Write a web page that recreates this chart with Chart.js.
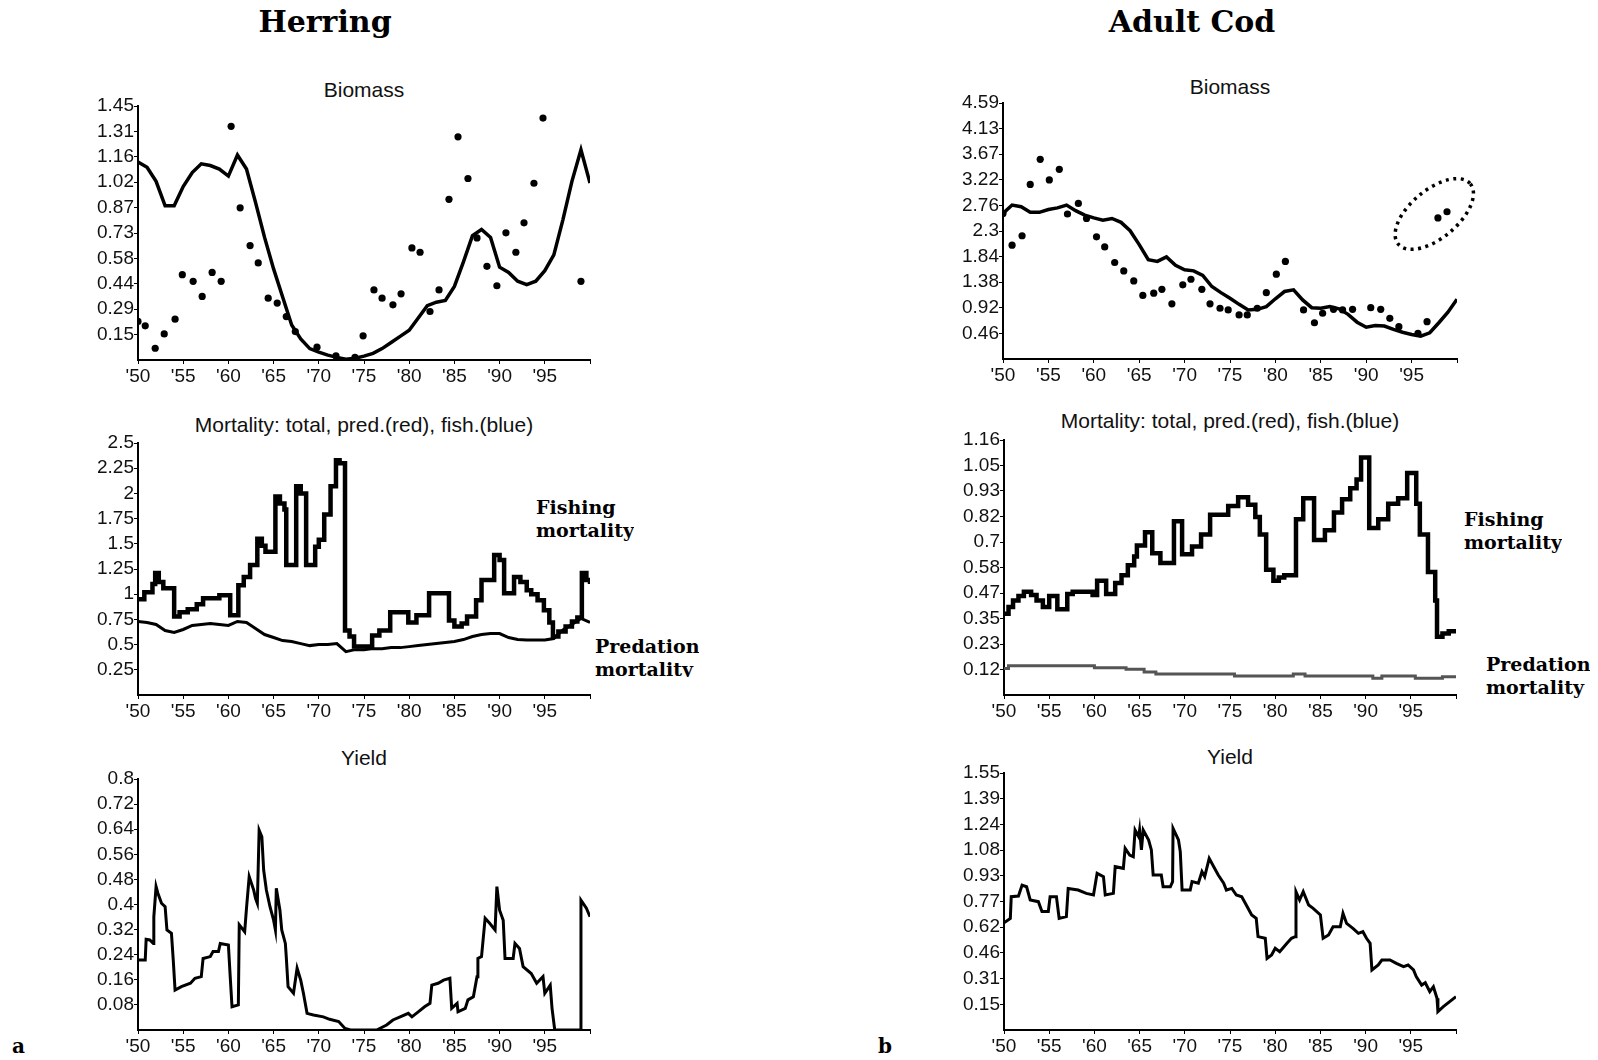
<!DOCTYPE html>
<html>
<head>
<meta charset="utf-8">
<script src="https://cdn.jsdelivr.net/npm/chart.js@4.4.1/dist/chart.umd.min.js"></script>
<style>
  body { margin: 0; background: #fff; width: 1598px; height: 1060px; position: relative; overflow: hidden;
         font-family: "Liberation Sans", Arial, sans-serif; color: #000; }
  canvas { position: absolute; }
  .head { position: absolute; font: bold 30px "DejaVu Serif", serif; transform: translate(-50%, -50%); white-space: nowrap; }
  .ptitle { position: absolute; font-size: 21px; transform: translate(-50%, -50%); white-space: nowrap; color: #111; }
  .note { position: absolute; font: bold 19px/23px "DejaVu Serif", serif; white-space: nowrap; overflow: hidden; }
  .tag { position: absolute; font: bold 20px "DejaVu Serif", serif; }
</style>
</head>
<body>

<div class="head" style="left:325px;top:21px">Herring</div>
<div class="head" style="left:1192px;top:21px">Adult Cod</div>

<div class="ptitle" style="left:364px;top:90px">Biomass</div>
<div class="ptitle" style="left:1230px;top:87px">Biomass</div>
<div class="ptitle" style="left:364px;top:425px">Mortality: total, pred.(red), fish.(blue)</div>
<div class="ptitle" style="left:1230px;top:421px">Mortality: total, pred.(red), fish.(blue)</div>
<div class="ptitle" style="left:364px;top:758px">Yield</div>
<div class="ptitle" style="left:1230px;top:757px">Yield</div>

<div class="note" style="left:536px;top:496px">Fishing<br>mortality</div>
<div class="note" style="left:595px;top:635px;height:42px">Predation<br>mortality</div>
<div class="note" style="left:1464px;top:508px">Fishing<br>mortality</div>
<div class="note" style="left:1486px;top:653px">Predation<br>mortality</div>

<div class="tag" style="left:12px;top:1034px">a</div>
<div class="tag" style="left:878px;top:1034px">b</div>

<script>
// x axis (years)
const yearTicks = [1950, 1955, 1960, 1965, 1970, 1975, 1980, 1985, 1990, 1995, 2000];
const yearTickLabels = ["'50", "'55", "'60", "'65", "'70", "'75", "'80", "'85", "'90", "'95", ""];

// ---- Herring ----
const hBioTicks = [0.145, 0.29, 0.435, 0.58, 0.725, 0.87, 1.015, 1.16, 1.305, 1.45];
const hBioTickLabels = ['0.15', '0.29', '0.44', '0.58', '0.73', '0.87', '1.02', '1.16', '1.31', '1.45'];
const hBioYears = [1950, 1951, 1952, 1953, 1954, 1955, 1956, 1957, 1958, 1959, 1960, 1961, 1962, 1963, 1964, 1965, 1966,
  1967, 1968, 1969, 1970, 1971, 1972, 1973, 1974, 1975, 1976, 1977, 1978, 1979, 1980, 1981, 1982, 1983, 1984, 1985,
  1986, 1987, 1988, 1989, 1990, 1991, 1992, 1993, 1994, 1995, 1996, 1997, 1998, 1999, 2000];
const hBioModel = [1.13, 1.10, 1.02, 0.88, 0.88, 0.99, 1.07, 1.12, 1.11, 1.09, 1.05, 1.17, 1.09, 0.90, 0.70, 0.52, 0.36,
  0.20, 0.12, 0.065, 0.045, 0.028, 0.015, 0.005, 0.01, 0.022, 0.038, 0.065, 0.10, 0.135, 0.17, 0.24, 0.31, 0.33, 0.34,
  0.42, 0.56, 0.71, 0.745, 0.70, 0.53, 0.50, 0.45, 0.43, 0.45, 0.51, 0.60, 0.80, 1.02, 1.20, 1.01];
const hSurveyYears = [1950.0, 1950.8, 1951.9, 1952.9, 1954.1, 1954.9, 1956.1, 1957.1, 1958.2, 1959.2, 1960.3, 1961.3,
  1962.4, 1963.3, 1964.4, 1965.4, 1966.4, 1967.4, 1969.8, 1971.9, 1974.0, 1974.9, 1976.1, 1977.0, 1978.2, 1979.1,
  1980.3, 1981.2, 1982.3, 1983.3, 1984.4, 1985.4, 1986.5, 1987.5, 1988.6, 1989.7, 1990.7, 1991.8, 1992.7, 1993.8,
  1994.8, 1999.0];
const hSurvey = [0.22, 0.195, 0.067, 0.149, 0.233, 0.487, 0.449, 0.363, 0.50, 0.449, 1.334, 0.869, 0.653, 0.554, 0.353,
  0.325, 0.248, 0.162, 0.073, 0.023, 0.015, 0.138, 0.40, 0.353, 0.315, 0.378, 0.64, 0.615, 0.277, 0.40, 0.917, 1.274,
  1.036, 0.697, 0.535, 0.424, 0.726, 0.615, 0.783, 1.009, 1.381, 0.449];

const hMortTicks = [0.25, 0.5, 0.75, 1, 1.25, 1.5, 1.75, 2, 2.25, 2.5];
const hMortTickLabels = ['0.25', '0.5', '0.75', '1', '1.25', '1.5', '1.75', '2', '2.25', '2.5'];
const hFishYears = [1950.0, 1950.7, 1951.6, 1951.9, 1952.3, 1952.8, 1954.0, 1954.6, 1955.5, 1956.5, 1957.2, 1959.0,
  1960.2, 1961.1, 1961.7, 1962.4, 1963.2, 1963.7, 1964.1, 1965.2, 1965.7, 1966.2, 1966.4, 1967.5, 1968.0, 1968.6,
  1969.6, 1970.0, 1970.6, 1971.3, 1971.9, 1972.3, 1972.9, 1973.4, 1973.9, 1975.9, 1976.7, 1977.9, 1979.9, 1980.8,
  1982.2, 1984.4, 1985.0, 1985.8, 1986.4, 1987.4, 1988.0, 1989.4, 1990.0, 1990.5, 1991.6, 1992.3, 1993.0, 1993.5,
  1994.2, 1994.9, 1995.5, 1995.9, 1996.5, 1997.3, 1998.0, 1998.6, 1999.1, 1999.6, 2000.0];
const hFish = [0.95, 1.02, 1.10, 1.21, 1.12, 1.06, 0.78, 0.82, 0.85, 0.90, 0.96, 0.99, 0.79, 1.09, 1.17, 1.29, 1.55,
  1.48, 1.42, 1.97, 1.90, 1.84, 1.29, 2.07, 2.00, 1.29, 1.47, 1.54, 1.79, 2.07, 2.33, 2.30, 0.64, 0.58, 0.48, 0.59,
  0.64, 0.82, 0.72, 0.79, 1.01, 0.74, 0.68, 0.71, 0.78, 0.94, 1.14, 1.39, 1.34, 1.01, 1.17, 1.12, 1.04, 1.00, 0.94,
  0.84, 0.72, 0.58, 0.63, 0.68, 0.73, 0.77, 1.21, 1.14, 1.10];
const hPred = [0.73, 0.72, 0.70, 0.64, 0.62, 0.65, 0.69, 0.70, 0.71, 0.70, 0.69, 0.73, 0.72, 0.66, 0.60, 0.57, 0.54,
  0.53, 0.51, 0.49, 0.50, 0.50, 0.51, 0.43, 0.45, 0.45, 0.46, 0.46, 0.47, 0.47, 0.48, 0.49, 0.50, 0.51, 0.52, 0.53,
  0.55, 0.58, 0.60, 0.61, 0.61, 0.57, 0.55, 0.545, 0.545, 0.545, 0.56, 0.645, 0.70, 0.76, 0.72];

const hYieldTicks = [0.08, 0.16, 0.24, 0.32, 0.4, 0.48, 0.56, 0.64, 0.72, 0.8];
const hYieldTickLabels = ['0.08', '0.16', '0.24', '0.32', '0.4', '0.48', '0.56', '0.64', '0.72', '0.8'];
const hYieldYears = [1950.0, 1950.8, 1950.9, 1951.3, 1951.7, 1951.75, 1952.0, 1952.2, 1952.6, 1953.0, 1953.2, 1953.7,
  1953.9, 1954.1, 1954.8, 1955.8, 1956.3, 1957.0, 1957.2, 1958.0, 1958.3, 1958.9, 1959.1, 1960.0, 1960.2, 1960.4,
  1961.1, 1961.2, 1961.8, 1962.0, 1962.3, 1962.8, 1963.0, 1963.2, 1963.4, 1963.7, 1963.9, 1964.2, 1964.6, 1965.0,
  1965.2, 1965.3, 1965.7, 1965.9, 1966.3, 1966.4, 1966.6, 1967.2, 1967.6, 1968.0, 1968.3, 1968.7, 1969.4, 1970.5,
  1971.2, 1972.2, 1972.9, 1973.5, 1976.4, 1977.5, 1978.2, 1979.0, 1979.9, 1980.3, 1981.0, 1981.7, 1982.3, 1982.5,
  1983.2, 1983.8, 1984.5, 1984.7, 1985.3, 1985.4, 1986.2, 1986.5, 1987.1, 1987.5, 1987.6, 1988.0, 1988.4, 1988.9,
  1989.5, 1989.7, 1990.0, 1990.4, 1990.6, 1991.5, 1991.7, 1992.2, 1992.6, 1993.5, 1994.1, 1994.8, 1995.0, 1995.6,
  1995.8, 1996.1, 1998.9, 1999.0, 1999.6, 2000.0];
const hYield = [0.223, 0.223, 0.289, 0.287, 0.276, 0.36, 0.457, 0.436, 0.404, 0.393, 0.319, 0.308, 0.223, 0.127, 0.138,
  0.149, 0.165, 0.17, 0.228, 0.234, 0.25, 0.25, 0.276, 0.271, 0.17, 0.074, 0.08, 0.335, 0.313, 0.388, 0.489, 0.446,
  0.42, 0.404, 0.637, 0.616, 0.51, 0.446, 0.393, 0.35, 0.319, 0.452, 0.382, 0.319, 0.276, 0.234, 0.138, 0.117, 0.197,
  0.159, 0.117, 0.053, 0.048, 0.042, 0.034, 0.027, 0.005, 0, 0, 0.016, 0.032, 0.042, 0.053, 0.042, 0.058, 0.074,
  0.085, 0.143, 0.149, 0.159, 0.165, 0.069, 0.085, 0.058, 0.069, 0.096, 0.106, 0.17, 0.228, 0.234, 0.356, 0.34, 0.319,
  0.457, 0.382, 0.35, 0.228, 0.228, 0.276, 0.26, 0.202, 0.18, 0.149, 0.17, 0.117, 0.143, 0.069, 0, 0, 0.414, 0.388,
  0.361];

// ---- Adult cod ----
const cBioTicks = [0.459, 0.918, 1.377, 1.836, 2.295, 2.754, 3.213, 3.672, 4.131, 4.59];
const cBioTickLabels = ['0.46', '0.92', '1.38', '1.84', '2.3', '2.76', '3.22', '3.67', '4.13', '4.59'];
const cBioYears = hBioYears;
const cBioModel = [2.61, 2.76, 2.73, 2.63, 2.63, 2.68, 2.71, 2.76, 2.66, 2.58, 2.53, 2.49, 2.52, 2.45, 2.30, 2.05, 1.78,
  1.75, 1.83, 1.68, 1.60, 1.58, 1.50, 1.30, 1.19, 1.09, 0.98, 0.88, 0.89, 0.94, 1.08, 1.21, 1.24, 1.06, 0.92, 0.91,
  0.94, 0.90, 0.80, 0.66, 0.57, 0.60, 0.59, 0.53, 0.48, 0.44, 0.41, 0.47, 0.65, 0.84, 1.07];
const cSurveyYears = [1950.0, 1951.0, 1952.1, 1953.0, 1954.1, 1955.1, 1956.2, 1957.1, 1958.3, 1959.2, 1960.3, 1961.2,
  1962.3, 1963.3, 1964.4, 1965.4, 1966.6, 1967.5, 1968.6, 1969.8, 1970.7, 1971.9, 1972.8, 1973.9, 1974.8, 1976.0,
  1976.9, 1978.0, 1979.0, 1980.1, 1981.1, 1983.1, 1984.3, 1985.2, 1986.4, 1987.4, 1988.5, 1990.5, 1991.6, 1992.6,
  1993.6, 1995.7, 1996.7, 1997.9, 1998.9];
const cSurvey = [2.61, 2.04, 2.21, 3.13, 3.58, 3.21, 3.40, 2.60, 2.79, 2.52, 2.19, 2.01, 1.73, 1.58, 1.40, 1.14, 1.18,
  1.25, 0.99, 1.33, 1.43, 1.25, 0.99, 0.91, 0.88, 0.79, 0.79, 0.91, 1.19, 1.52, 1.75, 0.88, 0.65, 0.82, 0.89, 0.88,
  0.89, 0.92, 0.89, 0.73, 0.58, 0.46, 0.67, 2.53, 2.64];
const cRing = { year: 1997.5, value: 2.6 };

const cMortTicks = [0.116, 0.232, 0.348, 0.464, 0.58, 0.696, 0.812, 0.928, 1.044, 1.16];
const cMortTickLabels = ['0.12', '0.23', '0.35', '0.47', '0.58', '0.7', '0.82', '0.93', '1.05', '1.16'];
const cFishYears = [1950.0, 1950.5, 1951.0, 1951.6, 1952.2, 1953.0, 1953.6, 1954.3, 1955.0, 1955.9, 1957.0, 1957.6,
  1959.8, 1960.3, 1961.3, 1962.3, 1963.0, 1963.7, 1964.4, 1964.7, 1965.6, 1966.4, 1967.3, 1968.8, 1969.7, 1970.8,
  1971.8, 1972.8, 1974.8, 1975.9, 1977.0, 1977.8, 1978.3, 1979.0, 1979.8, 1980.4, 1981.0, 1982.3, 1983.1, 1984.3,
  1985.5, 1986.5, 1987.4, 1988.3, 1989.0, 1989.5, 1990.4, 1991.4, 1992.5, 1993.6, 1994.6, 1995.6, 1996.0, 1996.9,
  1997.7, 1997.9, 1998.5, 1999.2, 2000.0];
const cFish = [0.37, 0.40, 0.43, 0.45, 0.47, 0.455, 0.43, 0.40, 0.45, 0.39, 0.46, 0.47, 0.455, 0.52, 0.46, 0.51, 0.545,
  0.59, 0.63, 0.68, 0.74, 0.645, 0.60, 0.79, 0.64, 0.675, 0.73, 0.82, 0.86, 0.90, 0.865, 0.81, 0.73, 0.57, 0.52, 0.535,
  0.545, 0.80, 0.895, 0.705, 0.75, 0.83, 0.89, 0.94, 0.98, 1.08, 0.76, 0.80, 0.87, 0.895, 1.01, 0.87, 0.73, 0.56,
  0.43, 0.265, 0.28, 0.29, 0.30];
const cPredYears = [1950.0, 1950.5, 1960.0, 1963.5, 1965.5, 1966.8, 1975.5, 1982.0, 1983.3, 1990.8, 1991.8, 1995.5,
  1998.5, 2000.0];
const cPred = [0.12, 0.133, 0.124, 0.117, 0.105, 0.095, 0.086, 0.095, 0.086, 0.076, 0.086, 0.076, 0.083, 0.083];

const cYieldTicks = [0.155, 0.31, 0.465, 0.62, 0.775, 0.93, 1.085, 1.24, 1.395, 1.55];
const cYieldTickLabels = ['0.15', '0.31', '0.46', '0.62', '0.77', '0.93', '1.08', '1.24', '1.39', '1.55'];
const cYieldYears = [1950.0, 1950.7, 1950.8, 1951.6, 1952.0, 1952.5, 1952.9, 1953.8, 1954.2, 1954.9, 1955.1, 1955.8,
  1956.1, 1956.9, 1957.1, 1958.2, 1959.1, 1959.9, 1960.3, 1961.0, 1961.2, 1962.1, 1962.3, 1963.2, 1963.4, 1963.9,
  1964.3, 1964.5, 1964.9, 1965.0, 1965.2, 1965.4, 1966.0, 1966.3, 1966.5, 1967.4, 1967.6, 1968.4, 1968.65, 1968.7,
  1969.3, 1969.5, 1969.7, 1970.6, 1970.8, 1971.5, 1971.9, 1972.2, 1972.7, 1973.2, 1973.7, 1974.3, 1974.6, 1975.2,
  1975.7, 1976.3, 1976.8, 1977.4, 1977.9, 1978.1, 1978.9, 1979.1, 1979.6, 1980.0, 1980.5, 1981.3, 1981.8, 1982.2,
  1982.3, 1982.7, 1983.1, 1983.7, 1984.2, 1985.0, 1985.3, 1985.9, 1986.4, 1987.2, 1987.5, 1987.9, 1988.6, 1989.2,
  1989.7, 1990.1, 1990.5, 1990.7, 1991.4, 1991.8, 1992.7, 1993.4, 1994.2, 1994.7, 1995.3, 1995.6, 1996.2, 1996.6,
  1997.1, 1997.5, 1997.9, 1998.0, 1998.6, 1999.3, 2000.0];
const cYield = [0.647, 0.673, 0.804, 0.808, 0.874, 0.864, 0.784, 0.774, 0.714, 0.714, 0.804, 0.804, 0.673, 0.684,
  0.854, 0.844, 0.824, 0.814, 0.945, 0.925, 0.814, 0.824, 0.985, 0.975, 1.096, 1.055, 1.045, 1.206, 1.166, 1.206,
  1.086, 1.206, 1.146, 1.086, 0.935, 0.935, 0.864, 0.864, 0.895, 1.216, 1.146, 1.076, 0.844, 0.844, 0.895, 0.885,
  0.955, 0.925, 1.035, 0.985, 0.935, 0.885, 0.844, 0.854, 0.814, 0.804, 0.754, 0.694, 0.673, 0.563, 0.553, 0.432,
  0.452, 0.493, 0.472, 0.523, 0.553, 0.563, 0.834, 0.784, 0.834, 0.754, 0.734, 0.694, 0.553, 0.573, 0.623, 0.623,
  0.704, 0.643, 0.613, 0.583, 0.593, 0.553, 0.523, 0.362, 0.392, 0.422, 0.422, 0.402, 0.382, 0.392, 0.362, 0.322,
  0.271, 0.285, 0.231, 0.261, 0.191, 0.111, 0.141, 0.171, 0.201];

Chart.defaults.font.family = '"Liberation Sans", Arial, sans-serif';
Chart.defaults.color = '#000';

const PAD_L = 80, PAD_T = 12, PAD_R = 40, PAD_B = 34;

function pts(xs, ys) {
  return xs.map((x, i) => ({ x: x, y: ys[i] }));
}

function line(xs, ys, width, color, stepped) {
  return { data: pts(xs, ys), borderColor: color || '#000', borderWidth: width, pointRadius: 0,
           stepped: stepped || false, tension: 0, fill: false };
}

function dots(xs, ys) {
  return { data: pts(xs, ys), showLine: false, pointRadius: 3.6, pointBackgroundColor: '#000',
           pointBorderWidth: 0, borderColor: '#000' };
}

function makePanel(box, yMax, yTicks, yLabels, datasets, plugins) {
  const cv = document.createElement('canvas');
  cv.width = box.right - box.left + PAD_L + PAD_R;
  cv.height = box.bottom - box.top + PAD_T + PAD_B;
  cv.style.left = (box.left - PAD_L) + 'px';
  cv.style.top = (box.top - PAD_T) + 'px';
  document.body.appendChild(cv);

  const tickGrid = { display: true, drawOnChartArea: false, drawTicks: true, tickLength: 4, color: '#000', lineWidth: 1 };
  return new Chart(cv.getContext('2d'), {
    type: 'line',
    data: { datasets: datasets },
    options: {
      responsive: false,
      animation: false,
      devicePixelRatio: 1,
      layout: { padding: { top: PAD_T, right: PAD_R, left: 0, bottom: 0 } },
      plugins: { legend: { display: false }, tooltip: { enabled: false } },
      scales: {
        x: {
          type: 'linear', min: 1950, max: 2000,
          afterFit: s => { s.height = PAD_B; },
          afterBuildTicks: s => { s.ticks = yearTicks.map(v => ({ value: v })); },
          ticks: { callback: (v, i) => yearTickLabels[i], autoSkip: false, maxRotation: 0, padding: 1,
                   font: { size: 19 }, color: '#111' },
          grid: tickGrid,
          border: { display: true, color: '#000', width: 2 }
        },
        y: {
          min: 0, max: yMax,
          afterFit: s => { s.width = PAD_L; },
          afterBuildTicks: s => { s.ticks = yTicks.map(v => ({ value: v })); },
          ticks: { callback: (v, i) => yLabels[i], autoSkip: false, padding: 0,
                   font: { size: 19 }, color: '#111' },
          grid: tickGrid,
          border: { display: true, color: '#000', width: 2 }
        }
      }
    },
    plugins: plugins || []
  });
}

// dotted ring around the last cod survey points
const ringPlugin = {
  id: 'ring',
  afterDatasetsDraw(chart) {
    const { ctx, scales } = chart;
    const cx = scales.x.getPixelForValue(cRing.year);
    const cy = scales.y.getPixelForValue(cRing.value);
    ctx.save();
    ctx.setLineDash([3, 4.5]);
    ctx.lineWidth = 3.5;
    ctx.strokeStyle = '#000';
    ctx.beginPath();
    ctx.ellipse(cx, cy, 47, 24, -40 * Math.PI / 180, 0, 2 * Math.PI);
    ctx.stroke();
    ctx.restore();
  }
};

// herring
makePanel({ left: 138, right: 590, top: 106, bottom: 360 }, 1.45, hBioTicks, hBioTickLabels, [
  line(hBioYears, hBioModel, 3.5),
  dots(hSurveyYears, hSurvey)
]);
makePanel({ left: 138, right: 590, top: 443, bottom: 695 }, 2.5, hMortTicks, hMortTickLabels, [
  line(hBioYears, hPred, 3),
  line(hFishYears, hFish, 4.5, '#000', true)
]);
makePanel({ left: 138, right: 590, top: 779, bottom: 1030 }, 0.8, hYieldTicks, hYieldTickLabels, [
  line(hYieldYears, hYield, 3)
]);

// adult cod
makePanel({ left: 1003, right: 1457, top: 103, bottom: 359 }, 4.59, cBioTicks, cBioTickLabels, [
  line(cBioYears, cBioModel, 3.5),
  dots(cSurveyYears, cSurvey)
], [ringPlugin]);
makePanel({ left: 1004, right: 1456, top: 440, bottom: 695 }, 1.16, cMortTicks, cMortTickLabels, [
  line(cPredYears, cPred, 3, '#555', true),
  line(cFishYears, cFish, 4.5, '#000', true)
]);
makePanel({ left: 1004, right: 1456, top: 773, bottom: 1030 }, 1.55, cYieldTicks, cYieldTickLabels, [
  line(cYieldYears, cYield, 3)
]);
</script>
</body>
</html>
